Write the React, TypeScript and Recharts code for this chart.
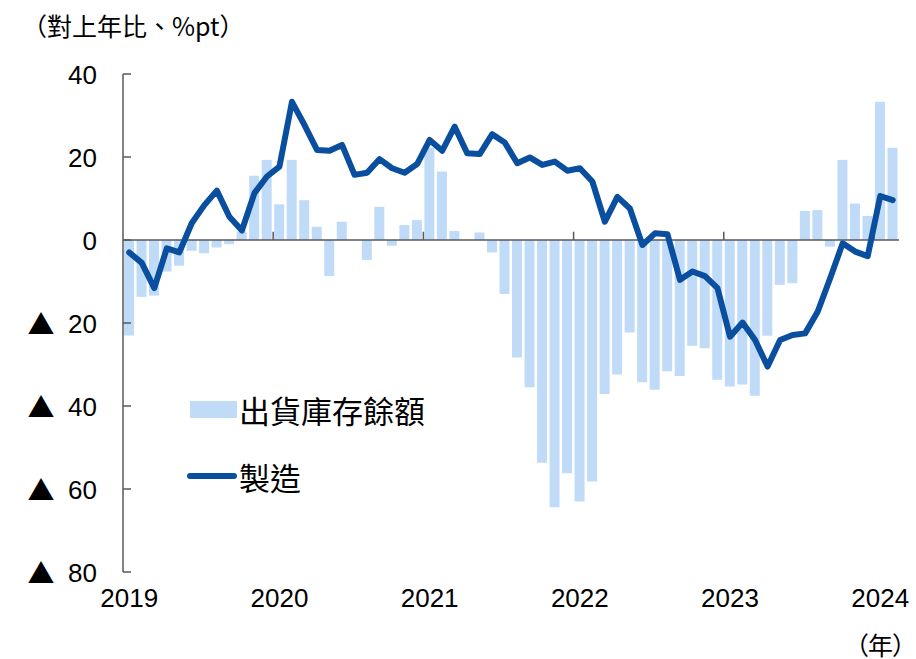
import React from 'react';
import { ComposedChart, Bar, Line, XAxis, YAxis, ReferenceLine } from 'recharts';

// 2019-01 .. 2024-02, monthly
const years = [2019, 2020, 2021, 2022, 2023, 2024];
const monthsInLastYear = 2;

const inventory = [
  -23, -13.7, -13.4, -7.6, -6.2, -2.6, -3.2, -1.8, -1.0, 2.0, 15.5, 19.3,
  8.6, 19.3, 9.6, 3.2, -8.7, 4.4, 0, -4.8, 8.0, -1.4, 3.6, 4.8,
  22.2, 16.5, 2.2, 0, 1.8, -3.0, -13.0, -28.3, -35.5, -53.7, -64.4, -56.2,
  -63.0, -58.2, -37.1, -32.4, -22.3, -34.3, -36.1, -31.6, -32.8, -25.5, -26.1, -33.7,
  -35.3, -34.8, -37.5, -23.1, -10.8, -10.4, 7.0, 7.2, -1.6, 19.3, 8.8, 5.8,
  33.3, 22.2,
];

const manufacturing = [
  -3, -5.5, -11.6, -2, -3, 4.1, 8.4, 11.9, 5.6, 2.3, 11.3, 15.3,
  17.7, 33.3, 27.7, 21.7, 21.5, 22.9, 15.7, 16.2, 19.5, 17.3, 16.2, 18.3,
  24.1, 21.5, 27.3, 20.9, 20.7, 25.5, 23.5, 18.5, 19.9, 18.1, 18.9, 16.7,
  17.3, 14.1, 4.4, 10.4, 7.6, -1.2, 1.6, 1.4, -9.6, -7.6, -8.7, -11.6,
  -23.3, -19.9, -24.1, -30.5, -24.1, -22.9, -22.5, -17.3, -9.2, -0.8, -2.8, -3.9,
  10.6, 9.6,
];

const yTicks = [40, 20, 0, -20, -40, -60, -80];

const months: string[] = [];
years.forEach((y, i) => {
  const n = i === years.length - 1 ? monthsInLastYear : 12;
  for (let m = 1; m <= n; m++) months.push(`${y}-${String(m).padStart(2, '0')}`);
});

const data = months.map((month, i) => ({
  month,
  inventory: inventory[i],
  manufacturing: manufacturing[i],
}));

const BAR = '#bfdbf8';
const LINE = '#0a4f9f';
const AXIS = '#595959';
const CJK = '"Noto Sans CJK TC", "Noto Sans CJK JP", sans-serif';
const NUM = '"Liberation Sans", Arial, "Noto Sans CJK TC", sans-serif';

function YTick(props: any) {
  const { x, y, payload } = props;
  const v = payload.value;
  return (
    <g>
      <line x1={x} x2={x + 8} y1={y} y2={y} stroke={AXIS} strokeWidth={1.5} />
      {v < 0 && (
        <text x={x - 82} y={y} textAnchor="middle" dominantBaseline="central" fontSize={27} fontFamily={CJK} fill="#000">
          ▲
        </text>
      )}
      <text x={x - 26} y={y + 10} textAnchor="end" fontSize={26} fontFamily={NUM} fill="#000">
        {Math.abs(v)}
      </text>
    </g>
  );
}

function XTick(props: any) {
  const { x, y, payload } = props;
  const [yr, m] = String(payload.value).split('-');
  if (m !== '01') return null;
  return (
    <text x={x} y={y + 35} textAnchor="middle" fontSize={26} fontFamily={NUM} fill="#000">
      {yr}
    </text>
  );
}

function LegendBox() {
  return (
    <div style={{ position: 'absolute', left: 185, top: 390, fontFamily: CJK, fontSize: 31, color: '#000' }}>
      <div style={{ display: 'flex', alignItems: 'center', height: 38 }}>
        <div style={{ width: 52 }}>
          <div style={{ marginLeft: 5, width: 47, height: 17, background: BAR }} />
        </div>
        <span style={{ marginLeft: 2 }}>出貨庫存餘額</span>
      </div>
      <div style={{ display: 'flex', alignItems: 'center', height: 38, marginTop: 29 }}>
        <svg width={52} height={10}>
          <line x1={5} x2={49} y1={5} y2={5} stroke={LINE} strokeWidth={6} strokeLinecap="round" />
        </svg>
        <span style={{ marginLeft: 2 }}>製造</span>
      </div>
    </div>
  );
}

export default function App() {
  const yearStarts = years.slice(1).map((y) => `${y}-01`);
  return (
    <div style={{ position: 'absolute', left: 0, top: 0, width: 916, height: 659, background: '#fff', overflow: 'hidden' }}>
      <ComposedChart
        width={916}
        height={659}
        data={data}
        margin={{ top: 74, right: 17, bottom: 47, left: 23 }}
      >
        <XAxis
          dataKey="month"
          interval={0}
          axisLine={false}
          tickLine={false}
          tickSize={0}
          tickMargin={0}
          height={40}
          tick={<XTick />}
        />
        <YAxis
          domain={[-80, 40]}
          ticks={yTicks}
          width={100}
          axisLine={{ stroke: AXIS, strokeWidth: 1.5 }}
          tickLine={false}
          tickSize={0}
          tickMargin={0}
          tick={<YTick />}
          allowDataOverflow
        />
        <Bar dataKey="inventory" name="出貨庫存餘額" fill={BAR} barSize={10} isAnimationActive={false} />
        <ReferenceLine y={0} stroke={AXIS} strokeWidth={1.5} />
        {yearStarts.map((m) => (
          <ReferenceLine
            key={m}
            position="start"
            segment={[{ x: m, y: 0 }, { x: m, y: 2 }]}
            stroke={AXIS}
            strokeWidth={1.5}
          />
        ))}
        <Line
          type="linear"
          dataKey="manufacturing"
          name="製造"
          stroke={LINE}
          strokeWidth={6}
          strokeLinejoin="round"
          strokeLinecap="round"
          dot={false}
          activeDot={false}
          isAnimationActive={false}
        />
      </ComposedChart>
      <div style={{ position: 'absolute', left: 22, top: 13, fontFamily: CJK, fontSize: 25, lineHeight: '25px', whiteSpace: 'nowrap' }}>
        （對上年比、%pt）
      </div>
      <div style={{ position: 'absolute', right: 0, top: 632, fontFamily: CJK, fontSize: 25, lineHeight: '25px', letterSpacing: -1, whiteSpace: 'nowrap' }}>
        （年）
      </div>
      <LegendBox />
    </div>
  );
}
